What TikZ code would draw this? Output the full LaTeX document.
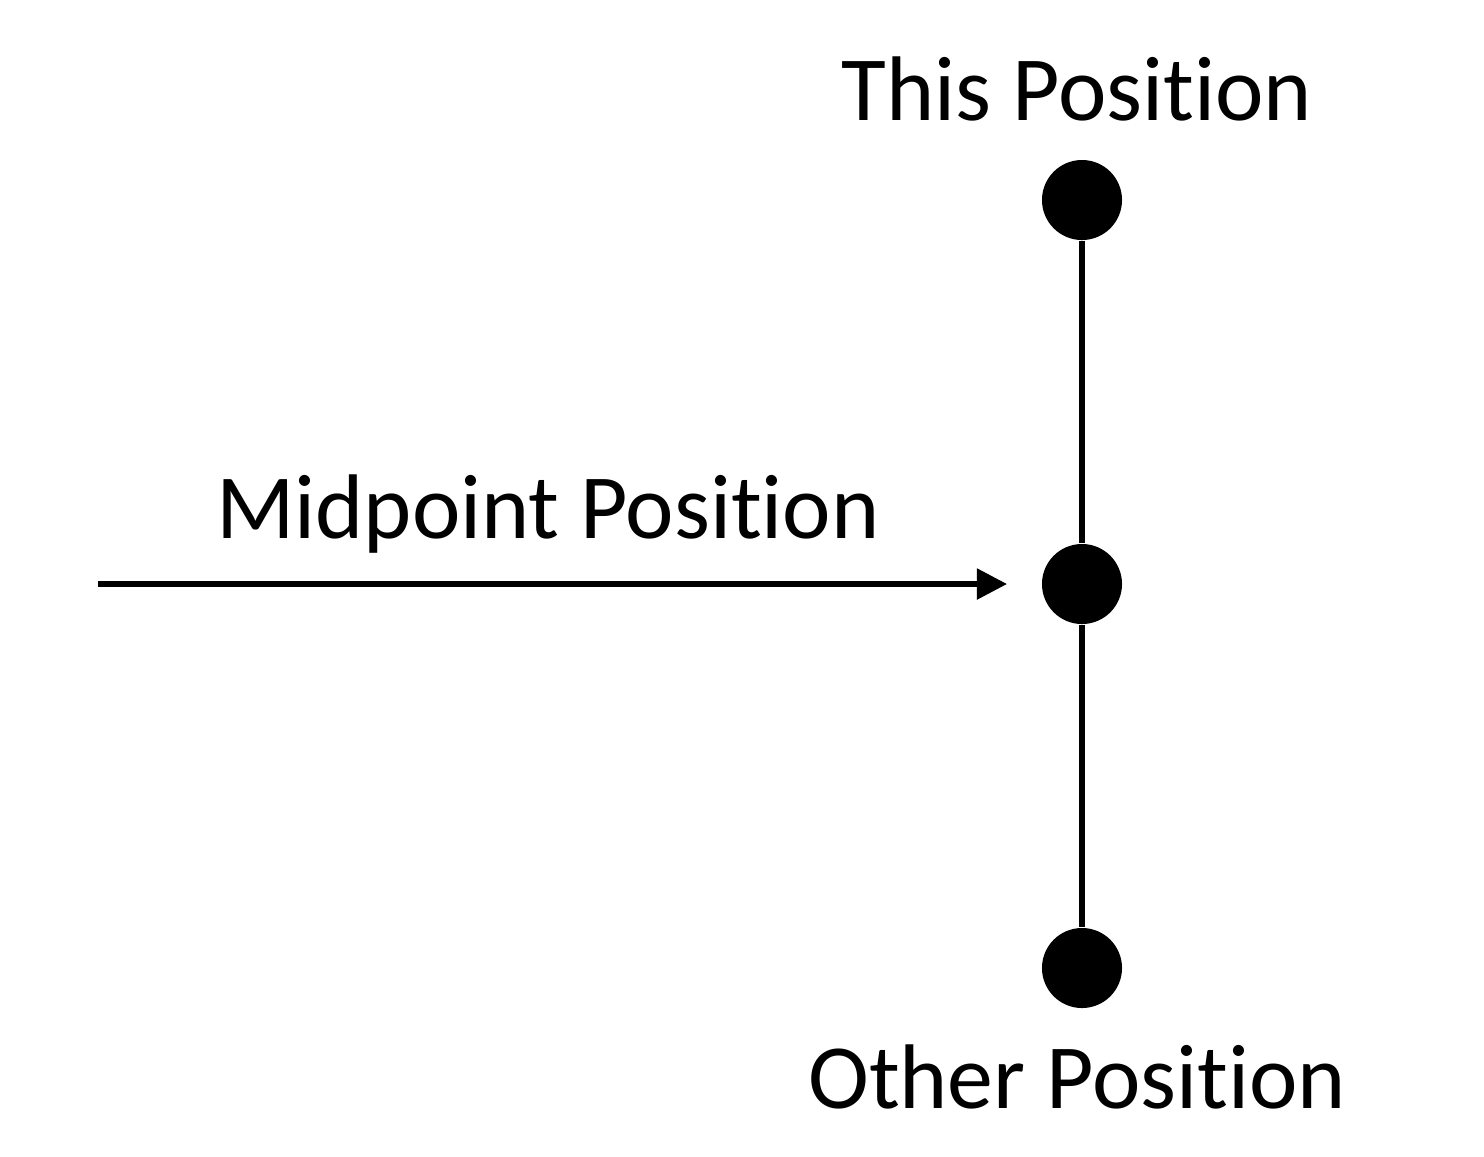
\documentclass[tikz,border=0pt]{standalone}
\usepackage{fontspec}
\setmainfont{Carlito}[Ligatures=NoCommon]
\usetikzlibrary{positioning}
\usetikzlibrary{arrows.meta}
\tikzset{>={Triangle[width=3mm,length=3mm]}}
\tikzset{dot/.style={circle, fill=black, minimum size=8mm, inner sep=0pt}}
\tikzset{lbl/.style={anchor=base, inner sep=0pt, font=\fontsize{26.1}{30}\selectfont}}

\begin{document}
\begin{tikzpicture}[x=0.01cm, y=-0.01cm]
\useasboundingbox (0,0) rectangle (1484,1156);
\node (This) [dot] at (1082,200) {};
\node (Mid) [dot] at (1082,584) {};
\node (Other) [dot] at (1082,968) {};
\node (ThisL) [lbl] at (1077,120) {This Position};
\node (MidL) [lbl] at (548,538) {Midpoint Position};
\node (OtherL) [lbl] at (1077,1108) {Other Position};
\coordinate (start) at (98,584);
\coordinate (tip) at (1007,584);

\path [draw, line width=1.8pt] (This) -- (Mid);
\path [draw, line width=1.8pt] (Mid) -- (Other);
\path [draw, ->, line width=1.5pt] (start) -- (tip);
\end{tikzpicture}
\end{document}
